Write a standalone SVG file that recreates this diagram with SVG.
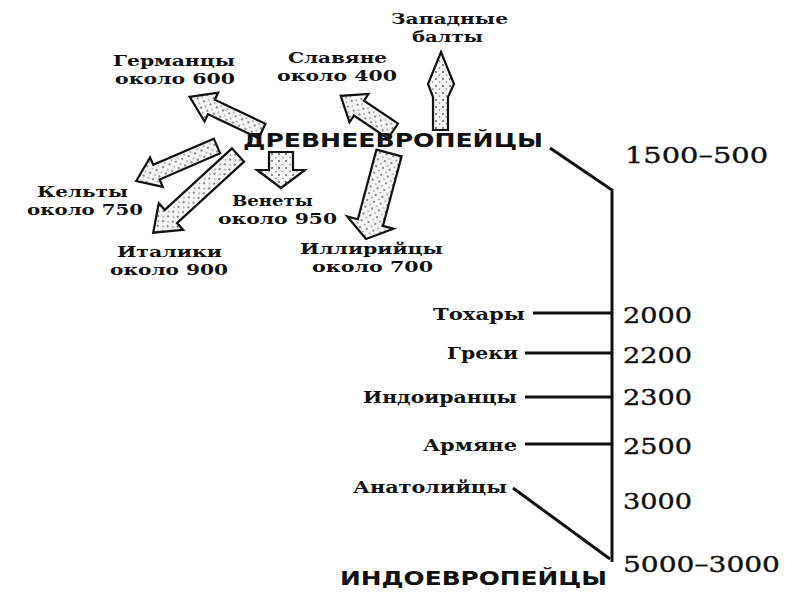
<svg xmlns="http://www.w3.org/2000/svg" width="800" height="600" viewBox="0 0 800 600">
<defs>
<pattern id="stip" width="7" height="7" patternUnits="userSpaceOnUse">
<rect width="7" height="7" fill="#f6f6f6"/>
<circle cx="2" cy="2" r="0.9" fill="#555"/>
<circle cx="5.5" cy="5" r="0.8" fill="#777"/>
</pattern>
<style>
.lbl{font-family:"DejaVu Serif","Liberation Serif",serif;font-weight:bold;font-size:15.5px;fill:#111}
.lbs{font-family:"DejaVu Serif","Liberation Serif",serif;font-weight:bold;font-size:17px;fill:#111}
.cap{font-family:"DejaVu Sans","Liberation Sans",sans-serif;font-weight:bold;font-size:19px;fill:#111}
.num{font-family:"DejaVu Serif","Liberation Serif",serif;font-size:23px;fill:#111;stroke:#111;stroke-width:0.4}
.arr{fill:url(#stip);stroke:#111;stroke-width:2.2;stroke-linejoin:miter}
.ln{stroke:#111;stroke-width:3;fill:none}
</style>
</defs>
<rect width="800" height="600" fill="#fff"/>

<g id="connectors">
<polygon class="arr" transform="translate(262,131) rotate(205.3)" points="0,-8 56,-8 56,-16 80,0 56,16 56,8 0,8"/>
<polygon class="arr" transform="translate(217,146) rotate(156.6)" points="0,-8 66,-8 66,-16 88,0 66,16 66,8 0,8"/>
<polygon class="arr" transform="translate(238,155) rotate(137.5)" points="0,-9 91,-9 91,-18 115,0 91,18 91,9 0,9"/>
<polygon class="arr" transform="translate(281,152) rotate(90)" points="0,-12 18,-12 18,-24 36,0 18,24 18,12 0,12"/>
<polygon class="arr" transform="translate(393,131) rotate(213.9)" points="0,-9 41,-9 41,-17 63,0 41,17 41,9 0,9"/>
<polygon class="arr" points="433,130 433,97 428,84 441,52 454,84 448,97 448,130"/>
<polygon class="arr" transform="translate(389,153) rotate(104.97)" points="0,-13 72,-13 72,-24 89,0 72,24 72,13 0,13"/>
<polyline class="ln" points="550,148 612,190 612,562"/>
<line class="ln" x1="533" y1="313" x2="612" y2="313"/>
<line class="ln" x1="525" y1="353" x2="612" y2="353"/>
<line class="ln" x1="525" y1="397" x2="612" y2="397"/>
<line class="ln" x1="525" y1="444" x2="612" y2="444"/>
<line class="ln" x1="513" y1="488" x2="610" y2="559"/>
</g>

<g id="drevneevropeitsy"><text class="cap" x="243" y="147" textLength="300" lengthAdjust="spacingAndGlyphs">ДРЕВНЕЕВРОПЕЙЦЫ</text></g>
<g id="indoevropeitsy"><text class="cap" x="340" y="585" textLength="267" lengthAdjust="spacingAndGlyphs">ИНДОЕВРОПЕЙЦЫ</text></g>

<g id="zapadnye-balty">
<text class="lbl" x="391" y="24" textLength="117" lengthAdjust="spacingAndGlyphs">Западные</text>
<text class="lbl" x="412" y="42" textLength="71" lengthAdjust="spacingAndGlyphs">балты</text>
</g>
<g id="germantsy">
<text class="lbl" x="113" y="66" textLength="122" lengthAdjust="spacingAndGlyphs">Германцы</text>
<text class="lbl" x="115" y="84" textLength="120" lengthAdjust="spacingAndGlyphs">около 600</text>
</g>
<g id="slavyane">
<text class="lbl" x="288" y="63" textLength="99" lengthAdjust="spacingAndGlyphs">Славяне</text>
<text class="lbl" x="277" y="81" textLength="120" lengthAdjust="spacingAndGlyphs">около 400</text>
</g>
<g id="kelty">
<text class="lbl" x="37" y="197" textLength="91" lengthAdjust="spacingAndGlyphs">Кельты</text>
<text class="lbl" x="27" y="215" textLength="116" lengthAdjust="spacingAndGlyphs">около 750</text>
</g>
<g id="venety">
<text class="lbl" x="232" y="206" textLength="81" lengthAdjust="spacingAndGlyphs">Венеты</text>
<text class="lbl" x="218" y="224" textLength="119" lengthAdjust="spacingAndGlyphs">около 950</text>
</g>
<g id="italiki">
<text class="lbl" x="117" y="257" textLength="105" lengthAdjust="spacingAndGlyphs">Италики</text>
<text class="lbl" x="110" y="275" textLength="118" lengthAdjust="spacingAndGlyphs">около 900</text>
</g>
<g id="illiriitsy">
<text class="lbl" x="300" y="254" textLength="143" lengthAdjust="spacingAndGlyphs">Иллирийцы</text>
<text class="lbl" x="312" y="272" textLength="121" lengthAdjust="spacingAndGlyphs">около 700</text>
</g>

<g id="tokhary"><text class="lbs" x="433" y="320" textLength="92" lengthAdjust="spacingAndGlyphs">Тохары</text></g>
<g id="greki"><text class="lbs" x="447" y="359" textLength="71" lengthAdjust="spacingAndGlyphs">Греки</text></g>
<g id="indoirantsy"><text class="lbs" x="363" y="403" textLength="154" lengthAdjust="spacingAndGlyphs">Индоиранцы</text></g>
<g id="armyane"><text class="lbs" x="423" y="451" textLength="94" lengthAdjust="spacingAndGlyphs">Армяне</text></g>
<g id="anatoliitsy"><text class="lbs" x="353" y="493" textLength="154" lengthAdjust="spacingAndGlyphs">Анатолийцы</text></g>

<g id="dates">
<text class="num" x="625" y="163" textLength="143" lengthAdjust="spacingAndGlyphs">1500–500</text>
<text class="num" x="623" y="323" textLength="69" lengthAdjust="spacingAndGlyphs">2000</text>
<text class="num" x="623" y="363" textLength="69" lengthAdjust="spacingAndGlyphs">2200</text>
<text class="num" x="623" y="405" textLength="69" lengthAdjust="spacingAndGlyphs">2300</text>
<text class="num" x="623" y="454" textLength="69" lengthAdjust="spacingAndGlyphs">2500</text>
<text class="num" x="623" y="509" textLength="69" lengthAdjust="spacingAndGlyphs">3000</text>
<text class="num" x="623" y="572" textLength="157" lengthAdjust="spacingAndGlyphs">5000–3000</text>
</g>
</svg>
